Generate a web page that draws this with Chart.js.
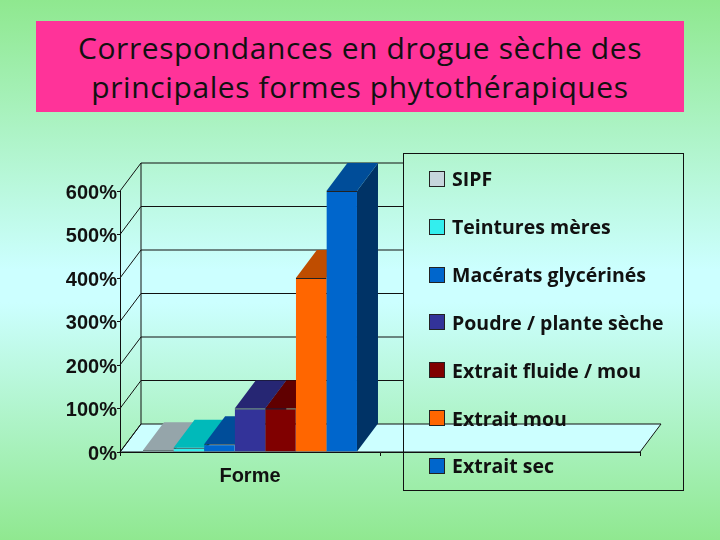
<!DOCTYPE html>
<html lang="fr">
<head>
<meta charset="utf-8">
<title>Correspondances en drogue sèche</title>
<script src="https://cdn.jsdelivr.net/npm/chart.js@4"></script>
<style>
  html, body { margin: 0; padding: 0; }
  body {
    position: relative;
    width: 720px;
    height: 540px;
    overflow: hidden;
    background: linear-gradient(#8fe88f 0%, #ccffff 50%, #ccffff 56%, #90e890 100%);
  }
  #chart { position: absolute; left: 0; top: 0; }
  #titre {
    position: absolute;
    left: 36px;
    top: 21px;
    width: 648px;
    height: 91px;
    background: #ff3399;
    color: #111;
    font: 30px/39px "Open Sans", sans-serif;
    letter-spacing: 0.6px;
    text-align: center;
    padding-top: 7px;
    box-sizing: border-box;
  }
  #legende {
    position: absolute;
    left: 403px;
    top: 153px;
    width: 281px;
    height: 338px;
    box-sizing: border-box;
    border: 1px solid #111;
    display: flex;
    flex-direction: column;
    justify-content: space-around;
    padding: 1px 0 0 25px;
    font: bold 19.5px "Open Sans", sans-serif;
    color: #111;
  }
  #legende div { display: flex; align-items: center; height: 24px; white-space: nowrap; }
  #legende i { width: 14px; height: 14px; border: 1px solid #222; margin-right: 7px; flex: none; }
</style>
</head>
<body>
<canvas id="chart" width="720" height="540"></canvas>
<div id="titre">Correspondances en drogue sèche des<br>principales formes phytothérapiques</div>
<div id="legende"></div>
<script>
const titles = ['SIPF', 'Teintures mères', 'Macérats glycérinés', 'Poudre / plante sèche', 'Extrait fluide / mou', 'Extrait mou', 'Extrait sec']
const categories = ['Forme', '']
const values = [4, 10, 18, 100, 100, 400, 600]
const frontColors = ['#c6d6dc', '#33eeee', '#0066cc', '#333399', '#800000', '#ff6600', '#0066cc']
const topColors = ['#95a5aa', '#00baba', '#004d99', '#262673', '#600000', '#bf4d00', '#004d99']
const sideColors = ['#6b7a80', '#008080', '#003366', '#1a1a4d', '#400000', '#803300', '#003366']

// depth of the fake 3d box
const depthX = 21
const depthY = -28
const legendLeft = 403

function poly (ctx, pts, fill, stroke) {
  ctx.beginPath()
  pts.forEach((p, i) => { i ? ctx.lineTo(p[0], p[1]) : ctx.moveTo(p[0], p[1]) })
  ctx.closePath()
  if (fill) { ctx.fillStyle = fill; ctx.fill() }
  if (stroke) { ctx.strokeStyle = stroke; ctx.lineWidth = 1; ctx.stroke() }
}

const box3d = {
  id: 'box3d',
  beforeDatasetsDraw (chart) {
    const ctx = chart.ctx
    const { left, right, bottom } = chart.chartArea
    const y = chart.scales.y
    ctx.save()
    // floor
    poly(ctx, [[left, bottom], [right, bottom], [right + depthX, bottom + depthY], [left + depthX, bottom + depthY]], '#ccffff', '#111')
    // grid on the back wall + left wall, the legend box hides the rest
    ctx.strokeStyle = '#111'
    ctx.lineWidth = 1
    y.ticks.forEach((t) => {
      const py = y.getPixelForValue(t.value)
      ctx.beginPath()
      ctx.moveTo(left, py)
      ctx.lineTo(left + depthX, py + depthY)
      if (t.value > 0) ctx.lineTo(legendLeft, py + depthY)
      ctx.stroke()
    })
    ctx.beginPath()
    ctx.moveTo(left + depthX, bottom + depthY)
    ctx.lineTo(left + depthX, y.getPixelForValue(600) + depthY)
    ctx.stroke()
    // sides and tops go under all the front faces, left to right
    titles.forEach((t, i) => {
      const bar = chart.getDatasetMeta(i).data[0]
      const l = bar.x - bar.width / 2
      const r = bar.x + bar.width / 2
      poly(ctx, [[r, bar.y], [r + depthX, bar.y + depthY], [r + depthX, bar.base + depthY], [r, bar.base]], sideColors[i])
      poly(ctx, [[l, bar.y], [r, bar.y], [r + depthX, bar.y + depthY], [l + depthX, bar.y + depthY]], topColors[i])
    })
    ctx.restore()
  }
}

const legende = document.getElementById('legende')
titles.forEach((t, i) => {
  const row = document.createElement('div')
  const sw = document.createElement('i')
  sw.style.background = frontColors[i]
  row.appendChild(sw)
  row.appendChild(document.createTextNode(t))
  legende.appendChild(row)
})

new Chart(document.getElementById('chart').getContext('2d'), {
  type: 'bar',
  data: {
    labels: categories,
    datasets: titles.map((t, i) => ({
      label: t,
      data: [values[i], null],
      backgroundColor: frontColors[i],
      borderColor: '#222',
      borderWidth: { top: 1 },
      barPercentage: 1,
      categoryPercentage: 0.823
    }))
  },
  plugins: [box3d],
  options: {
    responsive: false,
    animation: false,
    layout: { padding: { top: 191, right: 80 } },
    plugins: { legend: { display: false }, title: { display: false }, tooltip: { enabled: false } },
    scales: {
      x: {
        afterFit (s) { s.height = 88 },
        grid: { drawOnChartArea: false, tickLength: 4, color: '#111' },
        border: { color: '#111' },
        ticks: { color: '#111', padding: 8, font: { family: 'Liberation Sans', size: 20, weight: 'bold' } }
      },
      y: {
        min: 0,
        max: 600,
        afterFit (s) { s.width = 120 },
        grid: { drawOnChartArea: false, tickLength: 3, color: '#111' },
        border: { color: '#111' },
        ticks: {
          stepSize: 100,
          padding: 0,
          labelOffset: 2,
          color: '#111',
          font: { family: 'Liberation Sans', size: 20, weight: 'bold' },
          callback: (v) => v + '%'
        }
      }
    }
  }
})
</script>
</body>
</html>
